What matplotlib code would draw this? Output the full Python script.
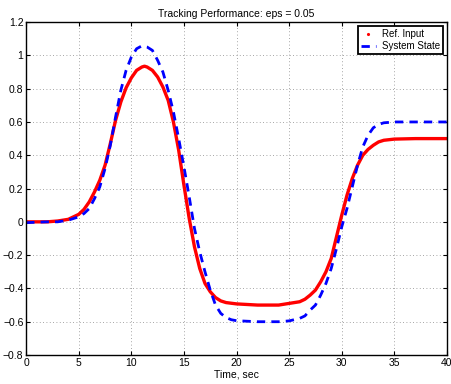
import numpy as np
import matplotlib
matplotlib.use('Agg')
import matplotlib.pyplot as plt
from matplotlib.lines import Line2D

# Du lieu doc tu hinh
t_ref = [0, 2, 3, 4, 5, 5.5, 6, 6.5, 7, 7.5, 8, 8.5, 9, 9.5, 10, 10.5, 11, 11.25,
         11.5, 12, 12.5, 13, 13.5, 14, 14.5, 15, 15.5, 16, 16.5, 17, 17.5, 18,
         18.5, 19, 20, 22, 24, 25, 26, 26.5, 27, 27.5, 28, 28.5, 29, 29.5, 30,
         30.5, 31, 31.5, 32, 32.5, 33, 33.5, 34, 35, 37, 40]
ref_input = [0, 0, 0.005, 0.015, 0.045, 0.075, 0.12, 0.18, 0.25, 0.34, 0.47,
             0.61, 0.72, 0.805, 0.865, 0.91, 0.93, 0.935, 0.93, 0.91, 0.87, 0.81,
             0.73, 0.60, 0.43, 0.22, 0.02, -0.15, -0.28, -0.37, -0.42, -0.455,
             -0.475, -0.485, -0.493, -0.50, -0.50, -0.49, -0.48, -0.465, -0.44,
             -0.41, -0.36, -0.30, -0.22, -0.09, 0.04, 0.16, 0.26, 0.34, 0.40,
             0.435, 0.46, 0.48, 0.49, 0.497, 0.50, 0.50]

t_sys = [0, 2, 3, 4, 5, 5.5, 6, 6.5, 7, 7.5, 8, 8.5, 9, 9.5, 10, 10.5, 11, 11.5,
         12, 12.5, 13, 13.5, 14, 14.5, 15, 15.5, 16, 16.5, 17, 17.5, 18, 18.5,
         19, 19.5, 20, 22, 24, 25, 26, 26.5, 27, 27.5, 28, 28.5, 29, 29.5, 30,
         30.5, 31, 31.5, 32, 32.5, 33, 33.5, 34, 35, 40]
system_state = [-0.005, 0, 0, 0.01, 0.03, 0.05, 0.08, 0.14, 0.21, 0.32, 0.46,
                0.63, 0.79, 0.91, 0.99, 1.04, 1.057, 1.05, 1.03, 0.97, 0.90,
                0.79, 0.66, 0.50, 0.33, 0.15, -0.04, -0.18, -0.30, -0.41, -0.50,
                -0.55, -0.575, -0.588, -0.594, -0.60, -0.60, -0.595, -0.58,
                -0.565, -0.53, -0.50, -0.44, -0.37, -0.28, -0.16, -0.03, 0.08,
                0.21, 0.34, 0.45, 0.52, 0.565, 0.585, 0.595, 0.60, 0.60]

plt.rcParams['font.family'] = ['Liberation Sans', 'DejaVu Sans']
plt.rcParams['font.size'] = 7.5

fig = plt.figure(figsize=(4.51, 3.84), dpi=100)
ax = fig.add_axes([0.058, 0.0755, 0.933, 0.867])

ax.plot(t_ref, ref_input, color='red', linewidth=2.4, solid_capstyle='round',
        solid_joinstyle='round')
ax.plot(t_sys, system_state, color='blue', linewidth=2.0, linestyle=(0, (3, 2.2)))

ax.set_xlim(0, 40)
ax.set_ylim(-0.8, 1.2)
ax.set_xticks(np.arange(0, 41, 5))
ax.set_yticks(np.arange(-0.8, 1.21, 0.2))
ax.set_yticklabels(['\u22120.8', '\u22120.6', '\u22120.4', '\u22120.2', '0',
                    '0.2', '0.4', '0.6', '0.8', '1', '1.2'])
ax.tick_params(direction='in', top=True, right=True, length=3, width=0.8,
               labelsize=7.5, pad=2)
ax.grid(True, linestyle=(0, (1, 3)), color='#888888', linewidth=0.6)
for s in ax.spines.values():
    s.set_linewidth(1.0)

ax.set_title('Tracking Performance: eps = 0.05', fontsize=7.5, pad=4)
ax.set_xlabel('Time, sec', fontsize=7.5, labelpad=1)

handles = [Line2D([], [], color='red', marker='.', markersize=2.5, linestyle='none'),
           Line2D([], [], color='blue', linewidth=2.0, linestyle=(0, (3, 2.2)))]
leg = ax.legend(handles, ['Ref. Input', 'System State'], loc='upper right',
                fancybox=False, framealpha=1, edgecolor='black', fontsize=7,
                borderpad=0.3, labelspacing=0.2, handlelength=1.5,
                handletextpad=0.6, borderaxespad=0.45)
leg.get_frame().set_linewidth(1.3)

fig.savefig('out.png', dpi=100)
